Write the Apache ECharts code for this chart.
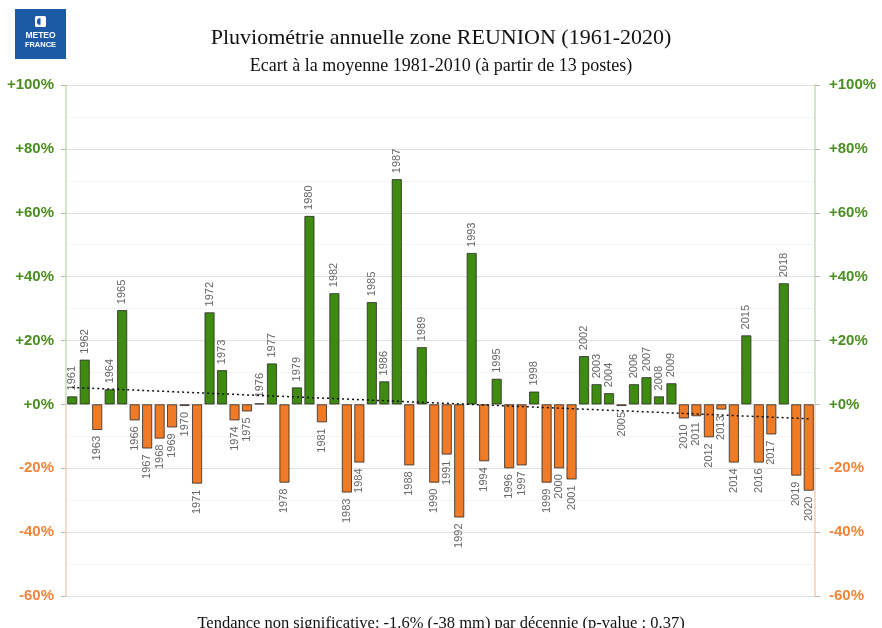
<!DOCTYPE html>
<html>
<head>
<meta charset="utf-8">
<script src="https://cdn.jsdelivr.net/npm/echarts@6/dist/echarts.min.js"></script>
<style>html,body{margin:0;padding:0;background:#fff}#c{width:882px;height:628px}</style>
</head>
<body>
<div id="c"></div>
<script>
const years = [];
for (let y = 1961; y <= 2020; y++) years.push(String(y));
const anomalies = [
  2.5, 14, -8, 4.7, 29.5, -5, -13.8, -10.7, -7.2, -0.5,
  -24.8, 28.8, 10.7, -5, -2.2, 0.3, 12.8, -24.5, 5.3, 59,
  -5.6, 34.8, -27.6, -18.2, 32, 7.2, 70.5, -19.1, 17.9, -24.5,
  -15.7, -35.4, 47.4, -17.8, 8, -20, -19.1, 4, -24.5, -20,
  -23.5, 15.1, 6.3, 3.5, -0.5, 6.3, 8.5, 2.5, 6.6, -4.4,
  -3.7, -10.3, -1.6, -18.2, 21.6, -18.2, -9.4, 37.9, -22.3, -27
];
const trendStart = ['1961', 5.3];
const trendEnd = ['2020', -4.5];
const yTicks = { min: -60, max: 100, interval: 20 };

const GREEN = '#3f8a10', ORANGE = '#ef7b26';
const LBL_GREEN = '#4b8f1e', LBL_ORANGE = '#f0853a';

const barData = anomalies.map(v => ({
  value: v,
  itemStyle: { color: v >= 0 ? GREEN : ORANGE },
  label: { position: v >= 0 ? 'top' : 'bottom', align: v >= 0 ? 'left' : 'right' }
}));

const axisGrad = new echarts.graphic.LinearGradient(0, 0, 0, 1, [
  { offset: 0, color: '#c9dcb8' }, { offset: 0.625, color: '#c9dcb8' },
  { offset: 0.625, color: '#f6cfb0' }, { offset: 1, color: '#f6cfb0' }
]);

function yAxisCfg(pos) {
  return {
    type: 'value', position: pos, min: yTicks.min, max: yTicks.max, interval: yTicks.interval,
    axisLine: { show: true, lineStyle: { color: axisGrad, width: 1.5 } },
    axisTick: { show: true, length: 5, lineStyle: { color: '#bbb' } },
    axisLabel: {
      fontFamily: 'Liberation Sans, Arial, sans-serif', fontWeight: 'bold', fontSize: 15,
      margin: pos === 'left' ? 12 : 14,
      formatter: v => (v >= 0 ? '+' : '') + v + '%',
      color: v => (v >= 0 ? LBL_GREEN : LBL_ORANGE)
    },
    splitLine: { show: pos === 'left', lineStyle: { color: '#e2e2e2', width: 1 } },
    minorTick: { show: false, splitNumber: 2 },
    minorSplitLine: { show: pos === 'left', lineStyle: { color: '#ececec', type: 'dotted', width: 1 } }
  };
}

const chart = echarts.init(document.getElementById('c'), null, { renderer: 'canvas' });
chart.setOption({
  animation: false,
  backgroundColor: '#fff',
  title: [
    { text: 'Pluviométrie annuelle zone REUNION (1961-2020)', left: 'center', top: 22,
      textStyle: { fontFamily: 'Liberation Serif, serif', fontWeight: 'normal', fontSize: 22, color: '#111' } },
    { text: 'Ecart à la moyenne 1981-2010 (à partir de 13 postes)', left: 'center', top: 52,
      textStyle: { fontFamily: 'Liberation Serif, serif', fontWeight: 'normal', fontSize: 18, color: '#111' } },
    { text: 'Tendance non significative: -1.6% (-38 mm) par décennie (p-value : 0.37)', left: 'center', top: 610,
      textStyle: { fontFamily: 'Liberation Serif, serif', fontWeight: 'normal', fontSize: 16.5, color: '#111' } }
  ],
  graphic: [
    { type: 'rect', x: 15, y: 9, shape: { width: 51, height: 50 }, style: { fill: '#1d5aa6' } },
    { type: 'rect', x: 35, y: 16, shape: { width: 11, height: 11, r: 1.5 }, style: { fill: '#fff' } },
    { type: 'circle', x: 40.5, y: 21.5, shape: { r: 3.6 }, style: { fill: '#1d5aa6' } },
    { type: 'rect', x: 40.5, y: 17.5, shape: { width: 3.5, height: 8 }, style: { fill: '#fff' } },
    { type: 'text', x: 40.5, y: 31, style: { text: 'METEO', fill: '#fff', font: 'bold 8.5px Liberation Sans, Arial', align: 'center' } },
    { type: 'text', x: 40.5, y: 41, style: { text: 'FRANCE', fill: '#fff', font: 'bold 7.5px Liberation Sans, Arial', align: 'center' } }
  ],
  grid: { left: 66, right: 67, top: 85, bottom: 32, containLabel: false },
  xAxis: {
    type: 'category', data: years, show: false, boundaryGap: true
  },
  yAxis: [yAxisCfg('left'), yAxisCfg('right')],
  series: [{
    type: 'bar', yAxisIndex: 0, data: barData, barCategoryGap: '20%',
    itemStyle: { borderColor: '#2a2a2a', borderWidth: 0.8 },
    label: {
      show: true, rotate: 90, verticalAlign: 'middle', distance: 6,
      formatter: p => years[p.dataIndex],
      color: '#666', fontSize: 11, fontFamily: 'Liberation Sans, Arial, sans-serif'
    },
    markLine: {
      silent: true, symbol: 'none', label: { show: false },
      lineStyle: { color: '#111', type: [2, 3], width: 1.5 },
      data: [[{ coord: trendStart }, { coord: trendEnd }]]
    }
  }]
});
</script>
</body>
</html>
